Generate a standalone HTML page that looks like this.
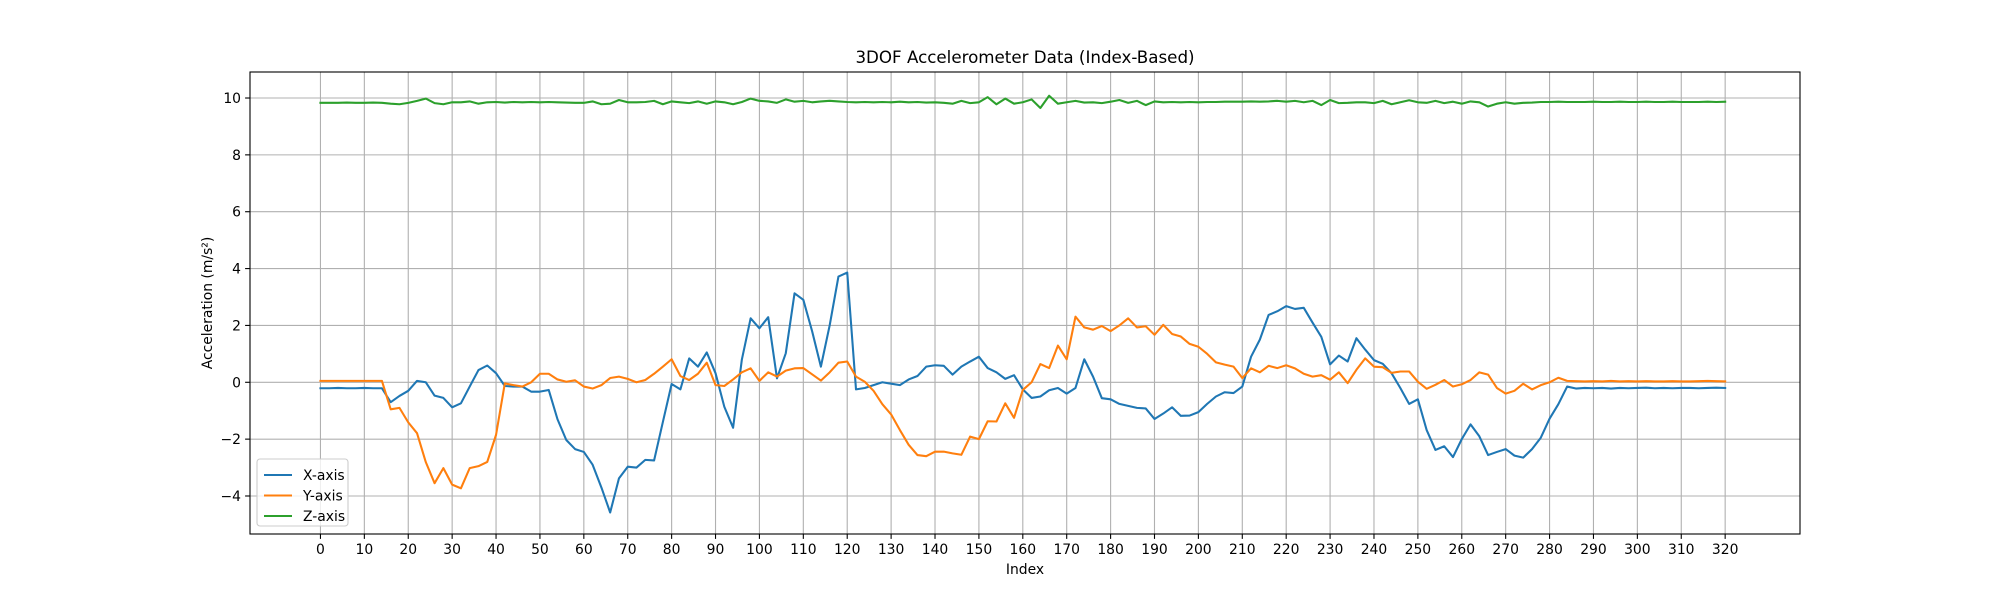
<!DOCTYPE html>
<html><head><meta charset="utf-8"><style>
html,body{margin:0;padding:0;background:#fff;}
svg{display:block;font-family:"DejaVu Sans","Liberation Sans",sans-serif;}
</style></head><body>
<svg id="chart" width="2000" height="600" viewBox="0 0 2000 600" xmlns="http://www.w3.org/2000/svg">
<rect x="0" y="0" width="2000" height="600" fill="#fff"/>
<g id="grid"></g>
<g id="series"></g>
<rect x="250" y="72" width="1550" height="462" fill="none" stroke="#000" stroke-width="1.1"/>
<g id="xticks"></g>
<g id="yticks"></g>
<text x="1025" y="63" text-anchor="middle" font-size="16.7">3DOF Accelerometer Data (Index-Based)</text>
<text x="1025" y="574" text-anchor="middle" font-size="13.9">Index</text>
<text transform="translate(212,303) rotate(-90)" text-anchor="middle" font-size="13.9">Acceleration (m/s²)</text>
<g id="legend">
<rect x="257" y="459" width="91" height="67" rx="3" fill="#fff" fill-opacity="0.8" stroke="#ccc" stroke-width="1.1"/>
</g>
</svg>
<script>
const xTicks=[0,10,20,30,40,50,60,70,80,90,100,110,120,130,140,150,160,170,180,190,200,210,220,230,240,250,260,270,280,290,300,310,320];
const yTicks=[-4,-2,0,2,4,6,8,10];
const seriesNames=["X-axis","Y-axis","Z-axis"];
const indexStep=2;
const xAxisVals=[
-0.21,-0.21,-0.2,-0.21,-0.21,-0.2,-0.21,-0.21,
-0.7,-0.48,-0.3,0.05,0.0,-0.47,-0.55,-0.88,
-0.74,-0.15,0.43,0.59,0.32,-0.13,-0.15,-0.15,
-0.33,-0.33,-0.27,-1.3,-2.03,-2.35,-2.45,-2.9,
-3.7,-4.58,-3.38,-2.97,-3.0,-2.73,-2.75,-1.4,
-0.06,-0.25,0.84,0.55,1.05,0.32,-0.86,-1.6,
0.8,2.25,1.9,2.29,0.14,1.02,3.13,2.9,
1.8,0.55,2.0,3.72,3.86,-0.25,-0.2,-0.1,
0.0,-0.05,-0.1,0.1,0.22,0.55,0.6,0.58,
0.27,0.55,0.73,0.9,0.5,0.35,0.12,0.25,
-0.25,-0.55,-0.5,-0.28,-0.2,-0.4,-0.2,0.81,
0.2,-0.56,-0.6,-0.76,-0.83,-0.9,-0.92,-1.29,
-1.1,-0.88,-1.18,-1.17,-1.05,-0.76,-0.5,-0.35,
-0.38,-0.15,0.9,1.5,2.37,2.5,2.68,2.58,
2.62,2.1,1.6,0.63,0.94,0.73,1.55,1.15,
0.78,0.65,0.32,-0.2,-0.76,-0.6,-1.68,-2.38,
-2.25,-2.63,-2.0,-1.48,-1.9,-2.56,-2.45,-2.35,
-2.58,-2.65,-2.35,-1.95,-1.28,-0.77,-0.15,-0.22,
-0.2,-0.21,-0.2,-0.22,-0.2,-0.21,-0.2,-0.19,-0.21,-0.2,-0.21,-0.2,-0.2,-0.21,-0.2,-0.19,-0.2];
const yAxisVals=[
0.05,0.05,0.05,0.05,0.05,0.05,0.05,0.05,
-0.95,-0.9,-1.41,-1.79,-2.81,-3.55,-3.02,-3.6,
-3.73,-3.02,-2.95,-2.8,-1.85,-0.04,-0.1,-0.15,
0.0,0.3,0.3,0.1,0.02,0.07,-0.15,-0.22,
-0.1,0.15,0.2,0.12,0.0,0.08,0.3,0.55,
0.81,0.22,0.08,0.3,0.69,-0.1,-0.13,0.1,
0.35,0.49,0.05,0.35,0.2,0.41,0.49,0.5,
0.28,0.06,0.35,0.69,0.73,0.2,0.02,-0.3,
-0.77,-1.13,-1.68,-2.2,-2.56,-2.6,-2.44,-2.44,
-2.5,-2.55,-1.91,-2.0,-1.37,-1.38,-0.74,-1.25,
-0.27,0.0,0.64,0.5,1.29,0.81,2.31,1.93,
1.85,1.98,1.8,2.0,2.25,1.93,1.97,1.67,
2.02,1.7,1.61,1.35,1.25,1.0,0.7,0.62,
0.55,0.15,0.49,0.35,0.58,0.5,0.6,0.49,
0.3,0.2,0.25,0.09,0.35,-0.03,0.44,0.84,
0.55,0.53,0.33,0.38,0.38,0.02,-0.23,-0.09,
0.08,-0.15,-0.07,0.08,0.35,0.27,-0.2,-0.4,
-0.3,-0.05,-0.25,-0.1,0.0,0.16,0.05,0.04,
0.03,0.04,0.03,0.05,0.03,0.04,0.03,0.04,0.03,0.03,0.04,0.03,0.03,0.04,0.05,0.04,0.03];
const zAxisVals=[
9.83,9.83,9.83,9.84,9.83,9.83,9.84,9.83,
9.8,9.78,9.83,9.9,9.98,9.82,9.78,9.85,
9.85,9.88,9.8,9.85,9.86,9.84,9.86,9.85,
9.86,9.85,9.86,9.85,9.84,9.83,9.83,9.88,
9.78,9.8,9.93,9.85,9.85,9.86,9.9,9.78,
9.88,9.85,9.82,9.88,9.8,9.88,9.85,9.78,
9.86,9.98,9.9,9.88,9.83,9.95,9.87,9.9,
9.85,9.88,9.9,9.88,9.86,9.85,9.86,9.85,
9.86,9.85,9.87,9.85,9.86,9.84,9.85,9.83,
9.8,9.9,9.82,9.85,10.03,9.78,9.98,9.8,
9.85,9.95,9.65,10.08,9.8,9.85,9.9,9.84,
9.85,9.82,9.87,9.93,9.83,9.9,9.75,9.88,
9.85,9.86,9.85,9.86,9.85,9.86,9.86,9.87,
9.87,9.87,9.88,9.87,9.88,9.9,9.87,9.9,
9.85,9.9,9.75,9.93,9.82,9.83,9.85,9.85,
9.82,9.9,9.78,9.85,9.92,9.85,9.83,9.9,
9.82,9.87,9.8,9.88,9.85,9.7,9.8,9.85,
9.8,9.83,9.84,9.86,9.86,9.87,9.86,9.86,
9.86,9.87,9.86,9.86,9.87,9.86,9.86,9.87,9.86,9.86,9.87,9.86,9.86,9.86,9.87,9.86,9.87];
const colors=["#1f77b4","#ff7f0e","#2ca02c"];
const NS="http://www.w3.org/2000/svg";
const L=250,R=1800,T=72,B=534;
const xMin=-16.05,xMax=337.05,yMin=-5.337,yMax=10.915;
function sx(v){return L+(v-xMin)/(xMax-xMin)*(R-L);}
function sy(v){return B-(v-yMin)/(yMax-yMin)*(B-T);}
function mk(tag,attrs,parent){const e=document.createElementNS(NS,tag);for(const k in attrs)e.setAttribute(k,attrs[k]);parent.appendChild(e);return e;}
const grid=document.getElementById('grid'),xt=document.getElementById('xticks'),yt=document.getElementById('yticks');
xTicks.forEach(t=>{
  const x=sx(t);
  const gl=mk('line',{x1:x,x2:x,y1:T,y2:B,stroke:'#b0b0b0','stroke-width':1.1},grid);
  
  
  const tk=mk('line',{x1:x,x2:x,y1:B,y2:B+4.9,stroke:'#000','stroke-width':1.1},xt);
  
  
  const tl=mk('text',{x:x,y:B+20,'text-anchor':'middle','font-size':13.9},xt);
  tl.textContent=t;
  
  
});
yTicks.forEach(t=>{
  const y=sy(t);
  const gl=mk('line',{x1:L,x2:R,y1:y,y2:y,stroke:'#b0b0b0','stroke-width':1.1},grid);
  
  
  const tk=mk('line',{x1:L-4.9,x2:L,y1:y,y2:y,stroke:'#000','stroke-width':1.1},yt);
  
  
  const tl=mk('text',{x:L-9,y:y+5,'text-anchor':'end','font-size':13.9},yt);
  tl.textContent=(t<0?'\u2212'+(-t):t);
  
  
});
const ser=document.getElementById('series');
[xAxisVals,yAxisVals,zAxisVals].forEach((arr,si)=>{
  const pts=arr.map((v,i)=>sx(i*indexStep).toFixed(2)+','+sy(v).toFixed(2)).join(' ');
  const pl=mk('polyline',{points:pts,fill:'none',stroke:colors[si],'stroke-width':2.08,'stroke-linejoin':'round','stroke-linecap':'square'},ser);
  
  
});
const lg=document.getElementById('legend');
seriesNames.forEach((n,i)=>{
  const y=475+i*20.5;
  const ln=mk('line',{x1:264,x2:292,y1:y,y2:y,stroke:colors[i],'stroke-width':2.08},lg);
  
  
  const tx=mk('text',{x:303,y:y+5,'font-size':13.9},lg);
  tx.textContent=n;
  
  
});
</script>
</body></html>
